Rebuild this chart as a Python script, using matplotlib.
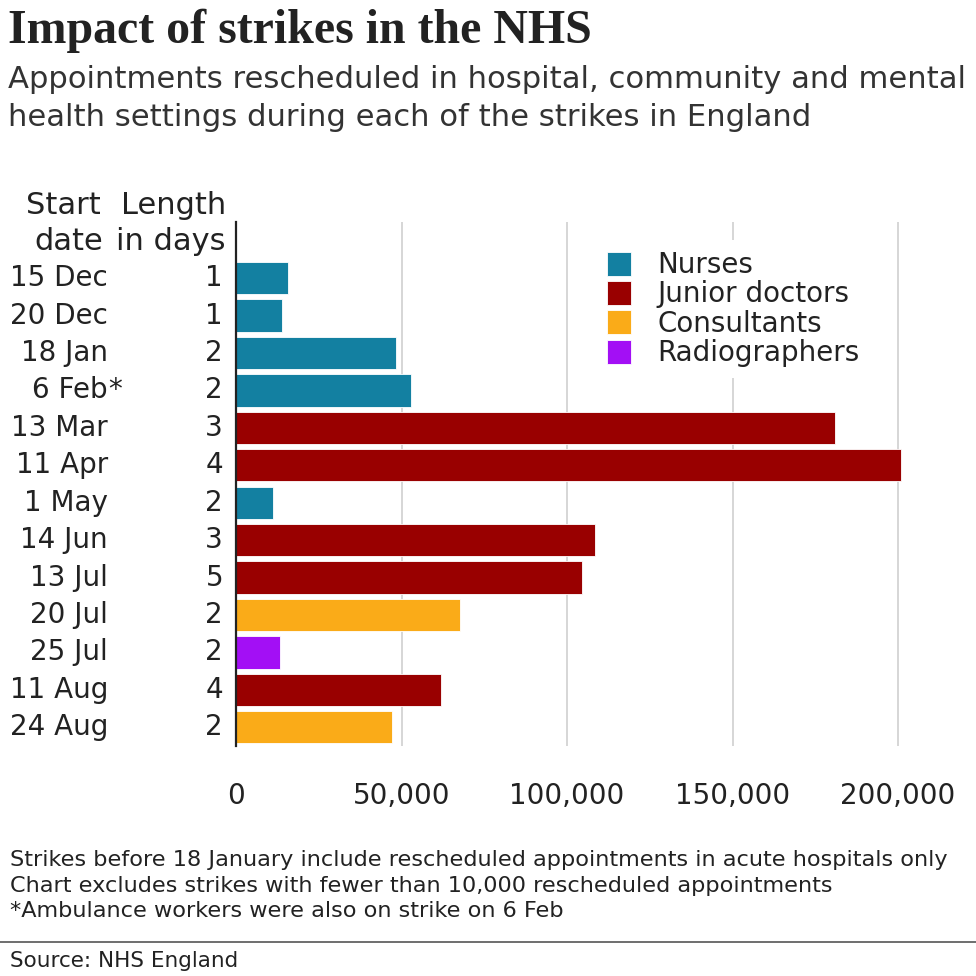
import matplotlib
matplotlib.use("Agg")
import matplotlib.pyplot as plt
from matplotlib.patches import Patch

plt.rcParams['font.family'] = ['DejaVu Sans']

dates = ["15 Dec", "20 Dec", "18 Jan", "6 Feb*", "13 Mar", "11 Apr", "1 May",
         "14 Jun", "13 Jul", "20 Jul", "25 Jul", "11 Aug", "24 Aug"]
lengths = [1, 1, 2, 2, 3, 4, 2, 3, 5, 2, 2, 4, 2]
groups = ["Nurses", "Nurses", "Nurses", "Nurses", "Junior doctors", "Junior doctors",
          "Nurses", "Junior doctors", "Junior doctors", "Consultants", "Radiographers",
          "Junior doctors", "Consultants"]
values = [15700, 13800, 48200, 52900, 181000, 201000, 11200,
          108600, 104600, 67800, 13200, 61800, 47100]
legend_names = ["Nurses", "Junior doctors", "Consultants", "Radiographers"]
colors = {"Nurses": "#1380A1", "Junior doctors": "#990000",
          "Consultants": "#FAAB18", "Radiographers": "#A30FF5"}
xticks = [0, 50000, 100000, 150000, 200000]

TXT = "#222222"
W = 976
fig = plt.figure(figsize=(9.76, 9.76), dpi=100)

def fx(px):
    return px / W

def fy(py):
    return 1 - py / W

ax = fig.add_axes([fx(236), fy(746), fx(700), (746 - 222) / W])
ypos = list(range(len(dates)))
ax.barh(ypos, values, height=0.86, color=[colors[g] for g in groups],
        edgecolor="white", linewidth=0.6, zorder=3)
ax.set_ylim(12.5, -1.5)
ax.set_xlim(0, 700 / 3.31 * 1000)
ax.set_xticks(xticks)
ax.set_xticklabels([f"{v:,}" for v in xticks], fontsize=20, color=TXT)
ax.tick_params(axis='x', length=0, pad=26)
ax.set_yticks([])
ax.grid(axis='x', color="#cccccc", linewidth=1.1, zorder=0)
for s in ["top", "right", "bottom"]:
    ax.spines[s].set_visible(False)
ax.spines["left"].set_color(TXT)
ax.spines["left"].set_linewidth(1.6)
ax.spines["left"].set_zorder(4)

tr = ax.get_yaxis_transform()
for i, (d, l) in enumerate(zip(dates, lengths)):
    if d.endswith("*"):
        ax.text((108 - 236) / 700, i, d[:-1], transform=tr, ha="right", va="center",
                fontsize=20, color=TXT)
        ax.text((108 - 236) / 700, i, "*", transform=tr, ha="left", va="center",
                fontsize=20, color=TXT)
    else:
        ax.text((108 - 236) / 700, i, d, transform=tr, ha="right", va="center",
                fontsize=20, color=TXT)
    ax.text((223 - 236) / 700, i, str(l), transform=tr, ha="right", va="center",
            fontsize=20, color=TXT)

fig.text(fx(101), fy(205), "Start", ha="right", va="center", fontsize=22, color=TXT)
fig.text(fx(103), fy(242), "date", ha="right", va="center", fontsize=22, color=TXT)
fig.text(fx(226), fy(205), "Length", ha="right", va="center", fontsize=22, color=TXT)
fig.text(fx(226), fy(242), "in days", ha="right", va="center", fontsize=22, color=TXT)

handles = [Patch(facecolor=colors[n], edgecolor="white", linewidth=0.6) for n in legend_names]
leg = ax.legend(handles, legend_names, loc="upper left",
                bbox_to_anchor=(fx(596), fy(240)), bbox_transform=fig.transFigure,
                fontsize=20, frameon=True, facecolor="white", edgecolor="none",
                framealpha=1, fancybox=False, handlelength=0.87, handleheight=0.95,
                handletextpad=0.95, labelspacing=0.05, borderpad=0.4, borderaxespad=0)
for t in leg.get_texts():
    t.set_color(TXT)
leg.set_zorder(5)

fig.text(fx(8), fy(31), "Impact of strikes in the NHS", ha="left", va="center",
         fontsize=34.5, fontweight="bold", family="Liberation Serif", color=TXT)
fig.text(fx(8), fy(80), "Appointments rescheduled in hospital, community and mental",
         ha="left", va="center", fontsize=22.05, color="#333333")
fig.text(fx(8), fy(118), "health settings during each of the strikes in England",
         ha="left", va="center", fontsize=22.05, color="#333333")

notes = ["Strikes before 18 January include rescheduled appointments in acute hospitals only",
         "Chart excludes strikes with fewer than 10,000 rescheduled appointments",
         "*Ambulance workers were also on strike on 6 Feb"]
for k, n in enumerate(notes):
    fig.text(fx(10), fy(860 + 25.5 * k), n, ha="left", va="center", fontsize=16.1, color=TXT)

fig.add_artist(plt.Line2D([0, 1], [fy(942), fy(942)], transform=fig.transFigure,
                          color="#555555", linewidth=1.2))
fig.text(fx(10), fy(961), "Source: NHS England", ha="left", va="center", fontsize=15.5, color=TXT)

fig.savefig("out.png", dpi=100, facecolor="white")
